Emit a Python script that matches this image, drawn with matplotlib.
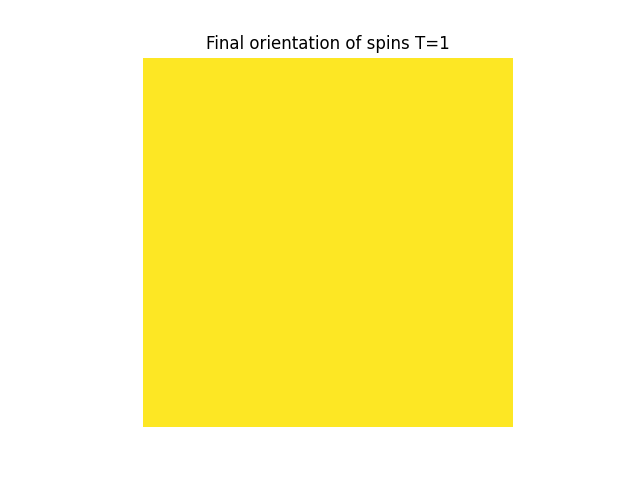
import numpy as np
import matplotlib
matplotlib.use("Agg")
import matplotlib.pyplot as plt

# Lattice of spins: all aligned (+1)
lattice_size = 50
spin_value = 1
spins = np.full((lattice_size, lattice_size), spin_value)
temperature = 1

fig, ax = plt.subplots(figsize=(6.4, 4.8), dpi=100)
ax.imshow(spins, cmap="viridis", vmin=-1, vmax=1)
ax.set_title(f"Final orientation of spins T={temperature}")
ax.axis("off")
fig.savefig("out.png", dpi=100)
